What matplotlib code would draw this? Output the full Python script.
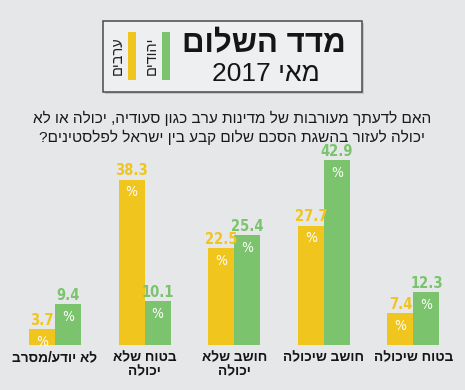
import numpy as np
import matplotlib
matplotlib.use("Agg")
import matplotlib.pyplot as plt
from matplotlib.patches import Rectangle

# נתונים - סדר משמאל לימין כפי שמופיע בגרף
categories = ["לא יודע/מסרב", "בטוח שלא\nיכולה", "חושב שלא\nיכולה", "חושב שיכולה", "בטוח שיכולה"]
arabs = [3.7, 38.3, 22.5, 27.7, 7.4]
jews = [9.4, 10.1, 25.4, 42.9, 12.3]

title = "מדד השלום"
subtitle = "מאי 2017"
question = ["האם לדעתך מעורבות של מדינות ערב כגון סעודיה, יכולה או לא",
            "יכולה לעזור בהשגת הסכם שלום קבע בין ישראל לפלסטינים?"]
legend_names = ["ערבים", "יהודים"]

YELLOW = "#f0c51e"
GREEN = "#7bc46d"
BG = "#e5e7e9"

W, H = 465, 390
plt.rcParams['font.family'] = ['Liberation Sans', 'DejaVu Sans']
NUM_FONT = ['DejaVu Sans']


def heb(s):
    # matplotlib לא עושה bidi - הופכים את הסדר ידנית
    out = []
    for line in s.split("\n"):
        parts = line.split(" ")
        rev = []
        for p in parts[::-1]:
            if p.isdigit():
                rev.append(p)
            else:
                rev.append(p[::-1])
        out.append(" ".join(rev))
    return "\n".join(out)


def fx(px):
    return px / W


def fy(py):
    return 1 - py / H


fig = plt.figure(figsize=(W / 100, H / 100), dpi=100, facecolor=BG)

# תיבת הכותרת
fig.patches.append(Rectangle((fx(105), fy(94)), fx(259), fy(23) - fy(94),
                             transform=fig.transFigure, facecolor="#c4c6c8",
                             edgecolor="none", zorder=0))
fig.patches.append(Rectangle((fx(103), fy(92)), fx(259), fy(21) - fy(92),
                             transform=fig.transFigure, facecolor="#eeeff0",
                             edgecolor="#4a4a4a", linewidth=1.1, zorder=1))
fig.text(fx(264), fy(44), heb(title), fontsize=22.5, fontweight="bold",
         color="#151515", ha="center", va="center")
fig.text(fx(266), fy(74), heb(subtitle), fontsize=19, color="#151515",
         ha="center", va="center")

# מקרא
for name, col, xt, xb in [(legend_names[0], YELLOW, 118, 128), (legend_names[1], GREEN, 152, 162)]:
    fig.patches.append(Rectangle((fx(xb), fy(80)), fx(8), fy(32) - fy(80),
                                 transform=fig.transFigure, facecolor=col,
                                 edgecolor="none", zorder=2))
    fig.text(fx(xt), fy(56), heb(name), fontsize=10.5, rotation=90,
             color="#222222", ha="center", va="center")

# שאלה
for i, line in enumerate(question):
    fig.text(fx(232), fy(118 + i * 19), heb(line), fontsize=11.1,
             color="#1a1a1a", ha="center", va="center")

# גרף עמודות
base_px = 345
ax = fig.add_axes([0, fy(base_px), 1, 1 - fy(base_px)])
ax.patch.set_alpha(0)
x = np.arange(len(categories))
step = 89.6
x0 = 55 / step
ax.set_xlim(-x0, W / step - x0)
ax.set_ylim(0, 42.9 * base_px / 185)
w = 26 / step

ax.bar(x - w / 2, arabs, w, color=YELLOW, edgecolor="none")
ax.bar(x + w / 2, jews, w, color=GREEN, edgecolor="none")

for xs, vals, col in [(x - w / 2, arabs, YELLOW), (x + w / 2, jews, GREEN)]:
    for xi, v in zip(xs, vals):
        ax.annotate(f"{v}", (xi, v), xytext=(0, 1), textcoords="offset points",
                    ha="center", va="bottom", fontsize=10.5, fontweight="bold",
                    fontstretch="condensed", color=col, family=NUM_FONT)
        ax.annotate("%", (xi, v), xytext=(0, -4), textcoords="offset points",
                    ha="center", va="top", fontsize=10, color="white",
                    fontstretch="condensed", family=NUM_FONT)

for xi, c in zip(x, categories):
    ax.annotate(heb(c), (xi, 0), xytext=(0, -4), textcoords="offset points",
                ha="center", va="top", fontsize=9.8, fontweight="bold",
                color="#151515", linespacing=1.0, annotation_clip=False)

ax.axis("off")

fig.savefig("out.png", dpi=100, facecolor=BG)
